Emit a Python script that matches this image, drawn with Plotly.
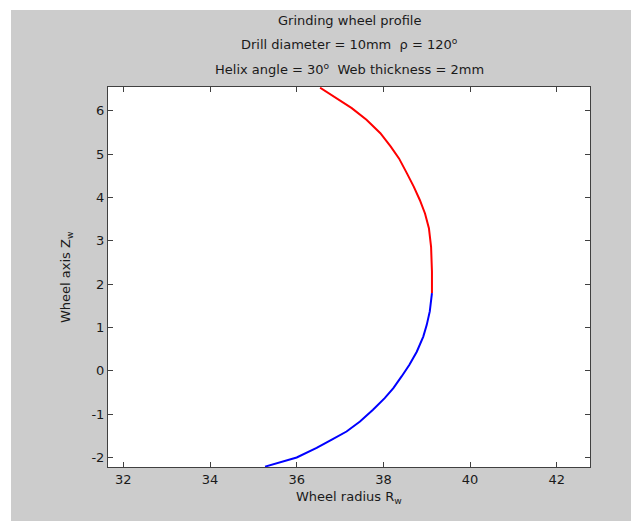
import plotly.graph_objects as go

# Profile data
red_r = [36.54, 36.92, 37.27, 37.61, 37.93, 38.17, 38.36, 38.54, 38.70, 38.84, 38.96,
         39.05, 39.10, 39.12, 39.12]
red_z = [6.53, 6.29, 6.06, 5.79, 5.48, 5.17, 4.90, 4.56, 4.25, 3.94, 3.63,
         3.29, 2.86, 2.29, 1.79]
blue_r = [39.12, 39.07, 39.00, 38.92, 38.77, 38.60, 38.42, 38.23, 38.03, 37.76, 37.46,
          37.15, 36.81, 36.46, 36.00, 35.61, 35.27]
blue_z = [1.79, 1.37, 1.06, 0.79, 0.44, 0.14, -0.13, -0.40, -0.63, -0.90, -1.17,
          -1.40, -1.59, -1.78, -2.00, -2.12, -2.21]

x_ticks = [32, 34, 36, 38, 40, 42]
x_labels = ["32", "34", "36", "38", "40", "42"]
y_ticks = [-2, -1, 0, 1, 2, 3, 4, 5, 6]
y_labels = ["-2", "-1", "0", "1", "2", "3", "4", "5", "6"]
x_range = [31.647, 42.766]
y_range = [-2.219, 6.547]

FONT = "DejaVu Sans, Arial, sans-serif"
FS = 13
AXC = "#404040"
TXT = "#1a1a1a"

fig = go.Figure()
fig.add_trace(go.Scatter(x=red_r, y=red_z, mode="lines",
                         line=dict(color="#ff0000", width=2), showlegend=False))
fig.add_trace(go.Scatter(x=blue_r, y=blue_z, mode="lines",
                         line=dict(color="#0000ff", width=2), showlegend=False))

axis_common = dict(showgrid=False, zeroline=False, showline=True, linecolor=AXC,
                   linewidth=1, mirror="ticks", ticks="inside", ticklen=5,
                   tickcolor=AXC, tickfont=dict(family=FONT, size=FS, color=TXT))

# page has an 8px body margin, so the figure is shifted by 8px
W = 482.0
H = 380.0
fig.update_layout(
    width=631, height=513,
    margin=dict(l=100, r=49, t=79, b=54),
    paper_bgcolor="#cccccc", plot_bgcolor="white",
    font=dict(family=FONT, size=FS, color=TXT),
    xaxis=dict(range=x_range, tickvals=x_ticks, ticktext=x_labels, **axis_common),
    yaxis=dict(range=y_range, tickvals=y_ticks, ticktext=y_labels, **axis_common),
)

# thin white strips at top and left edges of the picture
fig.add_shape(type="rect", xref="paper", yref="paper",
              x0=-100 / W, x1=(631 - 100) / W, y0=1 + 77 / H, y1=1 + 80 / H,
              fillcolor="white", line=dict(width=0), layer="above")
fig.add_shape(type="rect", xref="paper", yref="paper",
              x0=-101 / W, x1=-97 / W, y0=-55 / H, y1=1 + 80 / H,
              fillcolor="white", line=dict(width=0), layer="above")

titles = ["Grinding wheel profile",
          "Drill diameter = 10mm  \u03c1 = 120<sup>o</sup>",
          "Helix angle = 30<sup>o</sup>  Web thickness = 2mm"]
ypx = [21, 44, 69]  # centres in page pixels
for t, yp in zip(titles, ypx):
    fig.add_annotation(text=t, xref="paper", yref="paper", x=0.5,
                       y=1 + (87 - yp) / H, xanchor="center", yanchor="middle",
                       showarrow=False, font=dict(family=FONT, size=FS, color=TXT))

fig.add_annotation(text="Wheel radius R<sub>w</sub>", xref="paper", yref="paper",
                   x=0.5, y=-(498 - 467) / H, xanchor="center", yanchor="middle",
                   showarrow=False, font=dict(family=FONT, size=FS, color=TXT))
fig.add_annotation(text="Wheel axis Z<sub>w</sub>", xref="paper", yref="paper",
                   x=-(108 - 66) / W, y=0.5, xanchor="center", yanchor="middle",
                   textangle=-90, showarrow=False,
                   font=dict(family=FONT, size=FS, color=TXT))

fig.write_html("out.html")
